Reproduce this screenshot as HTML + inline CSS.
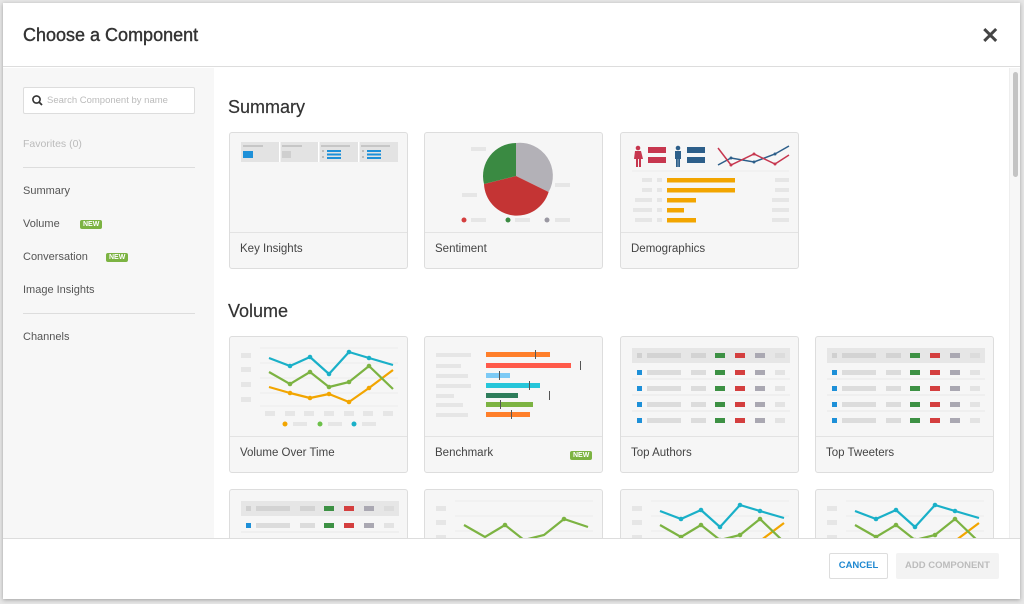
<!DOCTYPE html>
<html><head><meta charset="utf-8"><style>
*{margin:0;padding:0;box-sizing:border-box}
body{width:1024px;height:604px;background:#e6e6e6;font-family:"Liberation Sans",sans-serif;position:relative;overflow:hidden}
.modal{position:absolute;left:3px;top:3px;width:1017px;height:596px;background:#fff;box-shadow:0 1px 4px rgba(0,0,0,.3);overflow:hidden}
.hdr{position:absolute;left:0;top:0;width:1017px;height:64px;border-bottom:1px solid #ddd}
.hdr h1{position:absolute;left:20px;top:22px;font-size:18px;font-weight:normal;color:#333;-webkit-text-stroke:.4px #333}
.close{position:absolute;left:978px;top:20px;font-size:22px;color:#444;font-weight:bold}
.side{position:absolute;left:0;top:65px;width:211px;height:470px;background:#f7f7f7}
.search{position:absolute;left:20px;top:19px;width:172px;height:27px;background:#fff;border:1px solid #ddd;border-radius:2px}
.search span{position:absolute;left:23px;top:7px;font-size:9.5px;color:#bbb}
.s{position:absolute;left:20px;font-size:11px;color:#555}
.div{position:absolute;left:20px;width:172px;height:1px;background:#ddd}
.new{position:absolute;font-size:7px;font-weight:bold;color:#fff;background:#7cb342;padding:1px 3px;border-radius:2px}
.main{position:absolute;left:211px;top:65px;width:806px;height:470px;overflow:hidden}
h2{position:absolute;font-size:18px;font-weight:normal;color:#333;-webkit-text-stroke:.2px #333}
.card{position:absolute;width:179px;height:137px;background:#f6f6f6;border:1px solid #ddd;border-radius:3px;overflow:hidden}
.card svg{position:absolute;left:0;top:0}
.lab{position:absolute;left:0;top:99px;width:179px;height:38px;border-top:1px solid #e3e3e3}
.lab span{position:absolute;left:10px;top:10px;font-size:11.5px;color:#444}
.scroll{position:absolute;left:1006px;top:65px;width:11px;height:470px;background:#f7f7f7;border-left:1px solid #eee}
.thumb{position:absolute;left:3px;top:4px;width:5px;height:105px;background:#c4c4c4;border-radius:3px}
.foot{position:absolute;left:0;top:535px;width:1017px;height:61px;border-top:1px solid #ddd;background:#fff}
.btn{position:absolute;top:14px;height:26px;font-size:9.5px;font-weight:bold;text-align:center;line-height:26px;border-radius:2px}
</style></head><body>
<svg width="0" height="0" style="position:absolute"><defs>
<g id="tbl">
<rect x="11" y="11" width="158" height="15" fill="#e6e6e6"/>
<rect x="16" y="16" width="5" height="5" fill="#d0d0d0"/><rect x="26" y="16" width="34" height="5" fill="#d3d3d3"/><rect x="70" y="16" width="15" height="5" fill="#d3d3d3"/><rect x="94" y="16" width="10" height="5" fill="#3d9144"/><rect x="114" y="16" width="10" height="5" fill="#d43f3f"/><rect x="134" y="16" width="10" height="5" fill="#aaa8b2"/><rect x="154" y="16" width="10" height="5" fill="#dcdcdc"/>
</g>
<g id="row"><rect x="16" y="0" width="5" height="5" fill="#1e90d8"/><rect x="26" y="0" width="34" height="5" fill="#dcdcdc"/><rect x="70" y="0" width="15" height="5" fill="#dcdcdc"/><rect x="94" y="0" width="10" height="5" fill="#3d9144"/><rect x="114" y="0" width="10" height="5" fill="#d43f3f"/><rect x="134" y="0" width="10" height="5" fill="#aaa8b2"/><rect x="154" y="0" width="10" height="5" fill="#e3e3e3"/></g>
<g id="vot">
<g fill="#e6e6e6"><rect x="11" y="16" width="10" height="5"/><rect x="11" y="30" width="10" height="5"/><rect x="11" y="45" width="10" height="5"/><rect x="11" y="60" width="10" height="5"/>
<rect x="35" y="74" width="10" height="5"/><rect x="55" y="74" width="10" height="5"/><rect x="74" y="74" width="10" height="5"/><rect x="94" y="74" width="10" height="5"/><rect x="114" y="74" width="10" height="5"/><rect x="133" y="74" width="10" height="5"/><rect x="153" y="74" width="10" height="5"/>
<rect x="63" y="85" width="14" height="4"/><rect x="98" y="85" width="14" height="4"/><rect x="132" y="85" width="14" height="4"/></g>
<g stroke="#ececec" stroke-width="1"><line x1="30" y1="11" x2="168" y2="11"/><line x1="30" y1="26" x2="168" y2="26"/><line x1="30" y1="41" x2="168" y2="41"/><line x1="30" y1="56" x2="168" y2="56"/><line x1="30" y1="69" x2="168" y2="69"/></g>
<circle cx="55" cy="87" r="2.5" fill="#f2a500"/><circle cx="90" cy="87" r="2.5" fill="#6cc04a"/><circle cx="124" cy="87" r="2.5" fill="#1ab0c8"/>
<g fill="none" stroke-width="2.2" stroke-linejoin="round">
<polyline stroke="#f2a500" points="39,50 60,56 80,61 99,57 119,65 139,51 163,33"/>
<polyline stroke="#7cb342" points="39,35 60,47 80,35 99,50 119,45 139,29 163,52"/>
<polyline stroke="#1ab0c8" points="39,21 60,29 80,20 99,37 119,15 139,21 163,28"/>
</g>
<g fill="#f2a500"><circle cx="60" cy="56" r="2.3"/><circle cx="80" cy="61" r="2.3"/><circle cx="99" cy="57" r="2.3"/><circle cx="119" cy="65" r="2.3"/><circle cx="139" cy="51" r="2.3"/></g>
<g fill="#7cb342"><circle cx="60" cy="47" r="2.3"/><circle cx="80" cy="35" r="2.3"/><circle cx="99" cy="50" r="2.3"/><circle cx="119" cy="45" r="2.3"/><circle cx="139" cy="29" r="2.3"/></g>
<g fill="#1ab0c8"><circle cx="60" cy="29" r="2.3"/><circle cx="80" cy="20" r="2.3"/><circle cx="99" cy="37" r="2.3"/><circle cx="119" cy="15" r="2.3"/><circle cx="139" cy="21" r="2.3"/></g>
</g>
</defs></svg>
<div class="modal">
<div class="hdr"><h1>Choose a Component</h1><div class="close">✕</div></div>
<div class="side">
<div class="search"><svg width="14" height="14" style="position:absolute;left:7px;top:6px"><circle cx="5.5" cy="5.5" r="3.6" fill="none" stroke="#333" stroke-width="1.6"/><line x1="8" y1="8" x2="11" y2="11" stroke="#333" stroke-width="1.8"/></svg><span>Search Component by name</span></div>
<div class="s" style="top:70px;color:#bbb;font-size:10.5px">Favorites (0)</div>
<div class="div" style="top:99px"></div>
<div class="s" style="top:117px">Summary</div>
<div class="s" style="top:150px">Volume</div><div class="new" style="left:77px;top:152px">NEW</div>
<div class="s" style="top:183px">Conversation</div><div class="new" style="left:103px;top:185px">NEW</div>
<div class="s" style="top:216px">Image Insights</div>
<div class="div" style="top:245px"></div>
<div class="s" style="top:263px">Channels</div>
</div>
<div class="main">
<h2 style="left:14px;top:29px">Summary</h2>
<h2 style="left:14px;top:233px">Volume</h2>

<div class="card" style="left:15px;top:64px"><svg width="179" height="100">
<rect x="11" y="9" width="157" height="20" fill="#e3e3e3"/>
<g fill="#fff"><rect x="49" y="9" width="1.5" height="20"/><rect x="88" y="9" width="1.5" height="20"/><rect x="128" y="9" width="1.5" height="20"/></g>
<g fill="#c6c6c6"><rect x="13" y="12" width="20" height="2"/><rect x="52" y="12" width="20" height="2"/><rect x="91" y="12" width="29" height="2"/><rect x="131" y="12" width="29" height="2"/></g>
<rect x="13" y="18" width="10" height="7" fill="#1e90d8"/><rect x="52" y="18" width="9" height="7" fill="#cfcfcf"/>
<g fill="#1e90d8"><rect x="97" y="17" width="14" height="2"/><rect x="97" y="20.5" width="14" height="2"/><rect x="97" y="24" width="14" height="2"/><rect x="137" y="17" width="14" height="2"/><rect x="137" y="20.5" width="14" height="2"/><rect x="137" y="24" width="14" height="2"/></g>
<g fill="#bbb"><rect x="92" y="17" width="2" height="2"/><rect x="92" y="23" width="2" height="2"/><rect x="132" y="17" width="2" height="2"/><rect x="132" y="23" width="2" height="2"/></g>
</svg><div class="lab"><span>Key Insights</span></div></div>

<div class="card" style="left:210px;top:64px"><svg width="179" height="100">
<g fill="#e6e6e6"><rect x="46" y="14" width="15" height="4"/><rect x="130" y="50" width="15" height="4"/><rect x="37" y="60" width="15" height="4"/><rect x="46" y="85" width="15" height="4"/><rect x="90" y="85" width="15" height="4"/><rect x="130" y="85" width="15" height="4"/></g>
<path d="M91,43 L91,10 A33,33 0 0 1 123.6,59 Z" fill="#b3b1b7"/>
<path d="M91,43 L123.6,59 A33,33 0 0 1 59,51 Z" fill="#c43434"/>
<path d="M91,43 L59,51 A33,33 0 0 1 91,10 Z" fill="#3a8a42"/>
<circle cx="39" cy="87" r="2.5" fill="#d43f3f"/><circle cx="83" cy="87" r="2.5" fill="#3a8a42"/><circle cx="122" cy="87" r="2.5" fill="#9a98a2"/>
</svg><div class="lab"><span>Sentiment</span></div></div>

<div class="card" style="left:406px;top:64px"><svg width="179" height="100">
<g fill="#c7374f"><circle cx="17" cy="15" r="2.3"/><path d="M14,18 h6 l2,8 h-2 v8 h-2 v-8 h-1 v8 h-2 v-8 h-2 z"/><rect x="27" y="14" width="18" height="6"/><rect x="27" y="24" width="18" height="6"/></g>
<g fill="#2d5f8a"><circle cx="57" cy="15" r="2.3"/><path d="M54,18 h6 v8 h-1 v8 h-1.8 v-8 h-0.4 v8 h-1.8 v-8 h-1 z"/><rect x="66" y="14" width="18" height="6"/><rect x="66" y="24" width="18" height="6"/></g>
<polyline fill="none" stroke="#2d5f8a" stroke-width="1.5" points="97,32 110,25 133,29 154,21 168,13"/>
<polyline fill="none" stroke="#c7374f" stroke-width="1.5" points="97,15 110,32 133,21 154,31 168,22"/>
<g fill="#2d5f8a"><circle cx="110" cy="25" r="1.5"/><circle cx="133" cy="29" r="1.5"/><circle cx="154" cy="21" r="1.5"/></g>
<g fill="#c7374f"><circle cx="110" cy="32" r="1.5"/><circle cx="133" cy="21" r="1.5"/><circle cx="154" cy="31" r="1.5"/></g>
<line x1="11" y1="38" x2="168" y2="38" stroke="#ececec"/>
<g fill="#e6e6e6"><rect x="21" y="45" width="10" height="4"/><rect x="21" y="55" width="10" height="4"/><rect x="14" y="65" width="17" height="4"/><rect x="12" y="75" width="19" height="4"/><rect x="14" y="85" width="17" height="4"/>
<rect x="36" y="45" width="5" height="4"/><rect x="36" y="55" width="5" height="4"/><rect x="36" y="65" width="5" height="4"/><rect x="36" y="75" width="5" height="4"/><rect x="36" y="85" width="5" height="4"/>
<rect x="154" y="45" width="14" height="4"/><rect x="154" y="55" width="14" height="4"/><rect x="151" y="65" width="17" height="4"/><rect x="151" y="75" width="17" height="4"/><rect x="151" y="85" width="17" height="4"/></g>
<g fill="#f2a500"><rect x="46" y="45" width="68" height="4.5"/><rect x="46" y="55" width="68" height="4.5"/><rect x="46" y="65" width="29" height="4.5"/><rect x="46" y="75" width="17" height="4.5"/><rect x="46" y="85" width="29" height="4.5"/></g>
</svg><div class="lab"><span>Demographics</span></div></div>

<div class="card" style="left:15px;top:268px"><svg width="179" height="100"><use href="#vot"/></svg><div class="lab"><span>Volume Over Time</span></div></div>

<div class="card" style="left:210px;top:268px"><svg width="179" height="100">
<g fill="#e6e6e6"><rect x="11" y="16" width="35" height="4"/><rect x="11" y="27" width="25" height="4"/><rect x="11" y="37" width="32" height="4"/><rect x="11" y="47" width="35" height="4"/><rect x="11" y="57" width="18" height="4"/><rect x="11" y="66" width="27" height="4"/><rect x="11" y="76" width="32" height="4"/></g>
<rect x="61" y="15" width="64" height="5" fill="#ff7f2a"/><rect x="61" y="26" width="85" height="5" fill="#ff5a4a"/><rect x="61" y="36" width="24" height="5" fill="#7ccaf5"/><rect x="61" y="46" width="54" height="5" fill="#26c6da"/><rect x="61" y="56" width="32" height="5" fill="#2e7d5b"/><rect x="61" y="65" width="47" height="5" fill="#7cb342"/><rect x="61" y="75" width="44" height="5" fill="#ff7f2a"/>
<g fill="#555"><rect x="110" y="13" width="1" height="9"/><rect x="155" y="24" width="1" height="9"/><rect x="74" y="34" width="1" height="9"/><rect x="104" y="44" width="1" height="9"/><rect x="124" y="54" width="1" height="9"/><rect x="75" y="63" width="1" height="9"/><rect x="86" y="73" width="1" height="9"/></g>
</svg><div class="lab"><span>Benchmark</span><div class="new" style="left:145px;top:14px">NEW</div></div></div>

<div class="card" style="left:406px;top:268px"><svg width="179" height="100"><use href="#tbl"/><use href="#row" y="33"/><use href="#row" y="49"/><use href="#row" y="65"/><use href="#row" y="81"/><g stroke="#e8e8e8"><line x1="11" y1="42" x2="169" y2="42"/><line x1="11" y1="58" x2="169" y2="58"/><line x1="11" y1="74" x2="169" y2="74"/></g></svg><div class="lab"><span>Top Authors</span></div></div>

<div class="card" style="left:601px;top:268px"><svg width="179" height="100"><use href="#tbl"/><use href="#row" y="33"/><use href="#row" y="49"/><use href="#row" y="65"/><use href="#row" y="81"/><g stroke="#e8e8e8"><line x1="11" y1="42" x2="169" y2="42"/><line x1="11" y1="58" x2="169" y2="58"/><line x1="11" y1="74" x2="169" y2="74"/></g></svg><div class="lab"><span>Top Tweeters</span></div></div>

<div class="card" style="left:15px;top:421px"><svg width="179" height="100"><use href="#tbl"/><use href="#row" y="33"/><use href="#row" y="49"/><g stroke="#e8e8e8"><line x1="11" y1="42" x2="169" y2="42"/></g></svg></div>

<div class="card" style="left:210px;top:421px"><svg width="179" height="100">
<g fill="#e6e6e6"><rect x="11" y="16" width="10" height="5"/><rect x="11" y="30" width="10" height="5"/><rect x="11" y="45" width="10" height="5"/></g>
<g stroke="#ececec"><line x1="30" y1="11" x2="168" y2="11"/><line x1="30" y1="26" x2="168" y2="26"/><line x1="30" y1="41" x2="168" y2="41"/></g>
<polyline fill="none" stroke="#7cb342" stroke-width="2.2" points="39,35 60,47 80,35 99,50 119,45 139,29 163,37"/>
<g fill="#7cb342"><circle cx="80" cy="35" r="2.3"/><circle cx="139" cy="29" r="2.3"/></g>
</svg></div>

<div class="card" style="left:406px;top:421px"><svg width="179" height="100"><use href="#vot"/></svg></div>
<div class="card" style="left:601px;top:421px"><svg width="179" height="100"><use href="#vot"/></svg></div>
</div>
<div class="scroll"><div class="thumb"></div></div>
<div class="foot">
<div class="btn" style="left:826px;width:59px;border:1px solid #ddd;color:#1e88d0;line-height:24px">CANCEL</div>
<div class="btn" style="left:893px;width:103px;background:#f3f3f3;color:#bcbcbc">ADD COMPONENT</div>
</div>
</div>
</body></html>
